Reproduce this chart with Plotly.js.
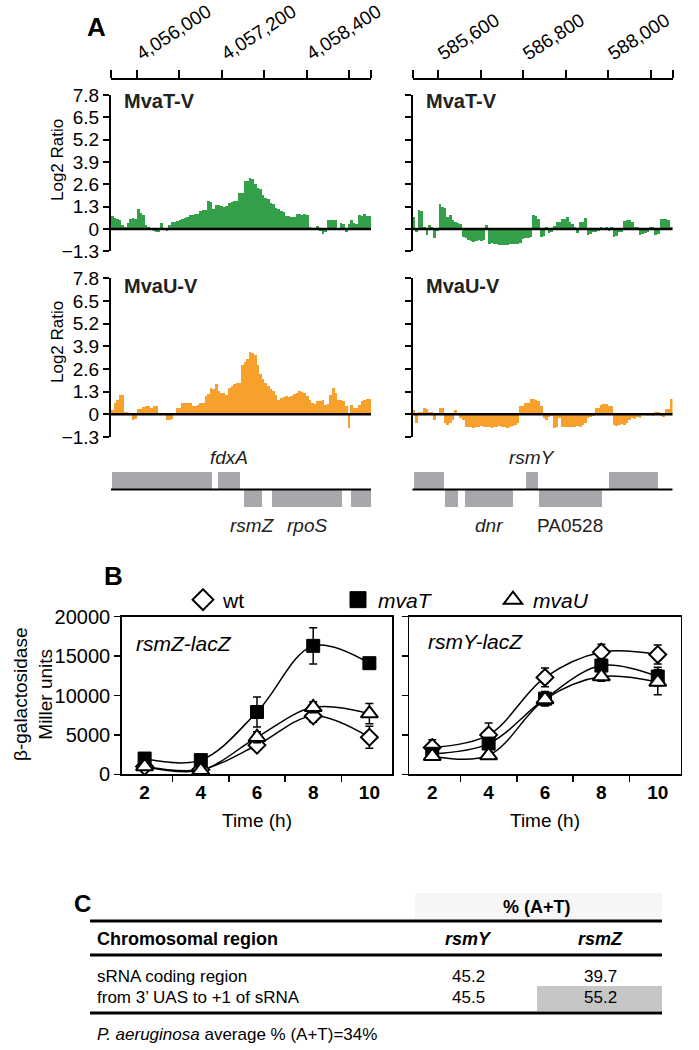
<!DOCTYPE html>
<html><head><meta charset="utf-8">
<script src="https://cdn.plot.ly/plotly-3.0.1.min.js"></script>
<style>html,body{margin:0;padding:0;background:#fff}#chart{width:699px;height:1050px}</style>
</head><body><div id="chart"></div>
<script>
const W = 699, H = 1050;
const X = p => p / W, Y = p => 1 - p / H;

// ---------------- Panel A data ----------------
const regionLeft = [4055640, 4059310];
const regionRight = [585240, 588905];
const leftTickVals = [4055640, 4056000, 4056600, 4057200, 4057800, 4058400, 4059000, 4059310];
const leftTickText = ['', '4,056,000', '', '4,057,200', '', '4,058,400', '', ''];
const rightTickVals = [585240, 585600, 586200, 586800, 587400, 588000, 588600, 588905];
const rightTickText = ['', '585,600', '', '586,800', '', '588,000', '', ''];
const log2Ticks = [-1.3, 0, 1.3, 2.6, 3.9, 5.2, 6.5, 7.8];

const mvaT_left = [0.76,0.65,0.6,0.5,0.25,0.12,0.33,0.6,0.62,0.6,1.16,0.95,0.8,0.23,0.14,0.05,-0.1,-0.2,-0.18,0.33,-0.05,-0.1,0.23,0.4,0.43,0.48,0.55,0.6,0.65,0.7,0.8,0.82,0.88,0.9,1.05,1.1,1.1,1.6,1.55,1.15,1.4,1.4,1.35,1.3,1.35,1.53,1.55,1.65,1.65,2.08,2.1,2.8,2.8,2.95,2.9,2.6,2.37,2.3,2.0,1.8,1.75,1.5,1.45,1.2,1.15,1.07,1.0,0.76,0.75,0.72,0.72,0.85,0.9,0.8,0.85,0.8,0.14,-0.02,0.05,0.2,-0.1,-0.3,-0.2,0.52,0.55,0.5,0.55,-0.02,0.37,0.3,-0.15,0.3,0.52,0.33,0.3,0.8,0.75,0.9,0.76,0.76];
const mvaT_right = [0.72,-0.15,1.1,1.05,0.14,-0.35,0.23,0.1,-0.55,-0.1,1.43,1.3,1.2,0.72,0.8,0.5,0.43,0.33,0.3,-0.45,-0.55,-0.65,-0.7,-0.75,-0.7,-0.65,-0.7,-0.65,0.23,-0.85,-0.8,-0.85,-0.9,-0.93,-0.95,-0.95,-0.93,-0.9,-0.9,-0.85,-0.85,-0.8,-0.6,-0.55,-0.5,-0.45,0.8,0.78,0.6,-0.45,-0.4,0.14,-0.25,-0.2,0.2,0.43,0.4,0.6,0.6,0.72,0.43,0.3,0.14,-0.25,0.43,0.4,0.66,-0.35,-0.3,-0.15,-0.2,-0.1,0.14,-0.06,0.1,-0.1,0.12,-0.45,-0.4,-0.15,-0.2,0.45,0.52,0.5,0.4,0.14,0.1,-0.35,-0.3,-0.25,-0.2,0.14,0.1,-0.35,-0.3,0.56,0.6,0.6,0.55,0.14];
const mvaU_left = [0.25,0.65,0.8,1.1,1.1,0.12,0.12,0.1,-0.3,-0.25,0.3,0.3,0.4,0.45,0.45,0.35,0.45,0.45,0.06,-0.05,-0.05,-0.3,-0.3,-0.25,0.1,0.35,0.35,0.65,0.65,0.65,0.65,0.5,0.5,0.55,0.65,0.65,1.04,1.14,1.53,1.45,1.72,1.33,1.24,1.2,1.08,1.5,1.63,1.72,1.82,1.82,2.8,3.0,3.2,3.6,3.5,3.4,2.8,2.3,2.0,1.8,1.63,1.43,1.33,1.1,0.84,0.94,1.0,1.04,1.0,1.04,1.14,1.2,1.33,1.3,1.2,1.04,0.84,0.65,0.6,0.75,0.75,0.84,0.55,0.6,1.1,1.5,1.24,0.84,0.8,0.75,0.45,-0.8,0.55,0.35,0.35,0.55,0.75,0.84,0.88,0.88];
const mvaU_right = [0.25,-0.5,0.15,0.15,0.35,0.3,0.15,0.15,-0.3,0.06,0.35,0.35,-0.5,-0.6,-0.5,-0.3,0.25,0.1,-0.2,-0.3,-0.7,-0.75,-0.7,-0.8,-0.75,-0.7,-0.65,-0.7,-0.75,-0.7,-0.8,-0.75,-0.7,-0.65,-0.7,-0.75,-0.8,-0.7,-0.65,-0.6,-0.5,0.5,0.5,0.65,0.65,0.88,0.88,0.8,0.75,0.5,-0.2,-0.3,-0.15,-0.1,-0.8,-0.75,-0.2,-0.7,-0.75,-0.7,-0.7,-0.75,-0.7,-0.65,-0.7,-0.6,-0.5,-0.2,-0.15,-0.1,0.35,0.35,0.55,0.6,0.6,0.45,0.45,-0.6,-0.65,-0.6,-0.55,-0.6,-0.5,-0.3,-0.2,-0.25,-0.15,-0.2,0.1,0.1,-0.1,0.05,-0.1,0.15,0.15,-0.1,-0.15,0.3,0.3,0.85];

// genes
const geneNameL = ['', 'fdxA', 'rsmZ', 'rpoS', ''];
const geneStartL = [4055657, 4057157, 4057514, 4057910, 4059029];
const geneEndL = [4057069, 4057462, 4057766, 4058907, 4059310];
const geneStrandL = [1, 1, -1, -1, -1];
const geneNameR = ['', '', 'dnr', 'rsmY', 'PA0528', ''];
const geneStartR = [585265, 585699, 585985, 586833, 587018, 588015];
const geneEndR = [585680, 585877, 586659, 587006, 587910, 588707];
const geneStrandR = [1, -1, -1, 1, -1, 1];
const geneItalic = {fdxA: true, rsmZ: true, rpoS: true, dnr: true, rsmY: true, PA0528: false};

// ---------------- Panel B data ----------------
const timeH = ['2', '4', '6', '8', '10'];
const rsmZ_wt = [1000, 600, 3700, 7400, 4700];
const rsmZ_wt_err = [300, 200, 500, 800, 1400];
const rsmZ_mvaT = [2000, 1800, 7900, 16300, 14100];
const rsmZ_mvaT_err = [300, 300, 1900, 2300, 600];
const rsmZ_mvaU = [1000, 500, 4700, 8500, 7700];
const rsmZ_mvaU_err = [400, 200, 700, 700, 1300];
const rsmY_wt = [3400, 5000, 12300, 15500, 15200];
const rsmY_wt_err = [1000, 1500, 1200, 1000, 1200];
const rsmY_mvaT = [2600, 3900, 9600, 13800, 12400];
const rsmY_mvaT_err = [400, 500, 900, 900, 1200];
const rsmY_mvaU = [2300, 2400, 9500, 12400, 11700];
const rsmY_mvaU_err = [400, 400, 800, 600, 1600];
const millerTicks = [0, 5000, 10000, 15000, 20000];

// ---------------- Panel C data ----------------
const tableHeader = ['Chromosomal region', 'rsmY', 'rsmZ'];
const tableRows = [
  ['sRNA coding region', '45.2', '39.7'],
  ['from 3\u2019 UAS to +1 of sRNA', '45.5', '55.2']
];
const footnote = '<i>P. aeruginosa</i> average % (A+T)=34%';

// ---------------- styling ----------------
const FONT = 'Liberation Sans, Arial, Helvetica, sans-serif';
const GREEN = '#35a04a';
const ORANGE = '#f7a12c';
const GENE = '#a7a8ab';

function centers(vals, range) {
  const step = (range[1] - range[0]) / vals.length;
  return vals.map((v, i) => range[0] + (i + 0.5) * step);
}

const traces = [];
function barTrace(vals, range, color, xa, ya) {
  return {type: 'bar', x: centers(vals, range), y: vals, xaxis: xa, yaxis: ya,
    marker: {color: color, line: {width: 0}}, showlegend: false, hoverinfo: 'skip'};
}
traces.push(barTrace(mvaT_left, regionLeft, GREEN, 'x', 'y'));
traces.push(barTrace(mvaT_right, regionRight, GREEN, 'x2', 'y2'));
traces.push(barTrace(mvaU_left, regionLeft, ORANGE, 'x3', 'y3'));
traces.push(barTrace(mvaU_right, regionRight, ORANGE, 'x4', 'y4'));

function geneTrace(st, en, strand, xa, ya) {
  return {type: 'bar', orientation: 'h', base: st, x: st.map((s, i) => en[i] - s),
    y: strand.map(s => s * 0.5), width: 0.9, xaxis: xa, yaxis: ya,
    marker: {color: GENE, line: {width: 0}}, showlegend: false, hoverinfo: 'skip'};
}
traces.push(geneTrace(geneStartL, geneEndL, geneStrandL, 'x5', 'y5'));
traces.push(geneTrace(geneStartR, geneEndR, geneStrandR, 'x6', 'y6'));

const symbols = {
  wt: {symbol: 'diamond', color: 'white', line: {color: 'black', width: 2}, size: 13},
  mvaT: {symbol: 'square', color: 'black', line: {color: 'black', width: 1}, size: 13},
  mvaU: {symbol: 'triangle-up', color: 'white', line: {color: 'black', width: 2}, size: 15}
};
const seriesB = [
  ['wt', rsmZ_wt, rsmZ_wt_err, rsmY_wt, rsmY_wt_err],
  ['mvaT', rsmZ_mvaT, rsmZ_mvaT_err, rsmY_mvaT, rsmY_mvaT_err],
  ['mvaU', rsmZ_mvaU, rsmZ_mvaU_err, rsmY_mvaU, rsmY_mvaU_err]
];
seriesB.forEach(s => {
  [['x7', 'y7', s[1]], ['x8', 'y8', s[3]]].forEach(p => {
    traces.push({type: 'scatter', mode: 'lines', x: timeH, y: p[2], xaxis: p[0], yaxis: p[1],
      line: {color: 'black', width: 1.5, shape: 'spline', smoothing: 1}, showlegend: false, hoverinfo: 'skip'});
  });
});
seriesB.forEach(s => {
  [['x7', 'y7', s[1], s[2]], ['x8', 'y8', s[3], s[4]]].forEach(p => {
    const m = symbols[s[0]];
    traces.push({type: 'scatter', mode: 'markers', x: timeH, y: p[2], xaxis: p[0], yaxis: p[1],
      error_y: {type: 'data', array: p[3], visible: true, color: 'black', thickness: 1.5, width: 4},
      marker: {symbol: m.symbol, color: m.color, size: m.size, line: m.line},
      showlegend: false, hoverinfo: 'skip'});
  });
});
const legendNames = {wt: 'wt', mvaT: '<i>mvaT</i>', mvaU: '<i>mvaU</i>'};
seriesB.forEach(s => {
  const m = symbols[s[0]];
  traces.push({type: 'scatter', mode: 'markers', x: [null], y: [null], xaxis: 'x7', yaxis: 'y7',
    name: legendNames[s[0]],
    marker: {symbol: m.symbol, color: m.color, size: 22, line: m.line}, showlegend: true, hoverinfo: 'skip'});
});

// ---------------- layout ----------------
const dTopL = [X(111), X(371)], dTopR = [X(412.5), X(672.5)];
const baseY = {range: [-1.3, 7.8], tickvals: log2Ticks, ticks: 'outside', ticklen: 6, tickwidth: 2,
  showline: true, linewidth: 2, linecolor: 'black', tickcolor: 'black', showgrid: false, zeroline: false,
  tickfont: {size: 19, color: 'black'}, fixedrange: true};
const topX = (dom, range, tv, tt) => ({domain: dom, range: range, anchor: 'free', position: Y(79), side: 'top',
  showline: true, linewidth: 2, linecolor: 'black', ticks: 'outside', ticklen: 8, tickwidth: 2, tickcolor: 'black',
  tickvals: tv, ticktext: tt, tickangle: -33, tickfont: {size: 19, color: 'black'}, showgrid: false, zeroline: false});
const hidX = (dom, range) => ({domain: dom, range: range, visible: false, showgrid: false, zeroline: false});

const bX = dom => ({domain: dom, type: 'category', categoryorder: 'array', categoryarray: timeH,
  tickson: 'boundaries', ticks: 'outside', ticklen: 6, tickwidth: 1.5, tickcolor: 'black',
  showline: true, mirror: true, linewidth: 1.5, linecolor: 'black', showgrid: false, zeroline: false,
  tickfont: {size: 19, color: 'black', weight: 'bold'},
  title: {text: 'Time (h)', font: {size: 19, color: 'black'}, standoff: 12}});
const bY = (show) => ({domain: [Y(774.3), Y(616.7)], range: [0, 20000], tickvals: millerTicks, tickformat: 'd',
  ticks: 'outside', ticklen: 6, tickwidth: 1.5, tickcolor: 'black', showline: true, mirror: true,
  linewidth: 1.5, linecolor: 'black', showgrid: false, zeroline: false, showticklabels: show,
  tickfont: {size: 20, color: 'black'}});

const shapes = [];
const annotations = [];
[['x', 'y'], ['x2', 'y2'], ['x3', 'y3'], ['x4', 'y4']].forEach(p => {
  shapes.push({type: 'line', xref: p[0] + ' domain', x0: 0, x1: 1, yref: p[1], y0: 0, y1: 0,
    line: {color: 'black', width: 2.5}, layer: 'above'});
});
['x5', 'x6'].forEach((xa, k) => {
  shapes.push({type: 'line', xref: xa + ' domain', x0: 0, x1: 1, yref: (k ? 'y6' : 'y5'), y0: 0, y1: 0,
    line: {color: 'black', width: 2}, layer: 'above'});
});

function ann(o) { annotations.push(Object.assign({showarrow: false, xref: 'paper', yref: 'paper',
  xanchor: 'center', yanchor: 'middle', font: {family: FONT, size: 15, color: 'black'}}, o)); }

ann({text: '<b>A</b>', x: X(96), y: Y(27), font: {family: FONT, size: 26, color: 'black'}});
ann({text: '<b>B</b>', x: X(113), y: Y(576), font: {family: FONT, size: 26, color: 'black'}});
ann({text: '<b>C</b>', x: X(82), y: Y(903), font: {family: FONT, size: 24, color: 'black'}});

[['MvaT-V', 122, 101], ['MvaT-V', 424, 101], ['MvaU-V', 122, 286], ['MvaU-V', 424, 286]].forEach(t => {
  ann({text: '<b>' + t[0] + '</b>', x: X(t[1]), y: Y(t[2]), xanchor: 'left', font: {family: FONT, size: 20, color: '#222'}});
});
ann({text: 'Log2 Ratio', x: X(57), y: Y(160), textangle: -90, font: {family: FONT, size: 17, color: 'black'}});
ann({text: 'Log2 Ratio', x: X(57), y: Y(342), textangle: -90, font: {family: FONT, size: 17, color: 'black'}});

function geneLabels(names, st, en, strand, xa, ya) {
  names.forEach((n, i) => {
    if (!n) return;
    const up = strand[i] > 0;
    annotations.push({showarrow: false, xref: xa, yref: ya, x: (st[i] + en[i]) / 2, y: up ? 1 : -1,
      xanchor: 'center', yanchor: up ? 'bottom' : 'top', yshift: up ? 2 : -5,
      text: geneItalic[n] ? '<i>' + n + '</i>' : n, font: {family: FONT, size: 19, color: '#222'}});
  });
}
geneLabels(geneNameL, geneStartL, geneEndL, geneStrandL, 'x5', 'y5');
geneLabels(geneNameR, geneStartR, geneEndR, geneStrandR, 'x6', 'y6');

ann({text: '<i>rsmZ-lacZ</i>', x: X(134), y: Y(643), xanchor: 'left', font: {family: FONT, size: 21, color: 'black'}});
ann({text: '<i>rsmY-lacZ</i>', x: X(426), y: Y(641), xanchor: 'left', font: {family: FONT, size: 21, color: 'black'}});
ann({text: '\u03b2-galactosidase<br>Miller units', x: X(33), y: Y(695), textangle: -90,
  font: {family: FONT, size: 19, color: 'black'}});

// ---------------- Panel C table ----------------
const TL = 90, TR = 662;
const ruleY = [921, 955, 1013];
const colX = [95, 468, 600];
const headY = 939, rowY = [976, 997];
shapes.push({type: 'rect', xref: 'paper', yref: 'paper', x0: X(415), x1: X(TR), y0: Y(919), y1: Y(893),
  fillcolor: '#f6f6f6', line: {width: 0}, layer: 'below'});
shapes.push({type: 'rect', xref: 'paper', yref: 'paper', x0: X(537), x1: X(TR), y0: Y(1011), y1: Y(986),
  fillcolor: '#c6c6c6', line: {width: 0}, layer: 'below'});
ruleY.forEach(yy => shapes.push({type: 'line', xref: 'paper', yref: 'paper', x0: X(TL), x1: X(TR), y0: Y(yy), y1: Y(yy),
  line: {color: 'black', width: 3}}));
ann({text: '<b>% (A+T)</b>', x: X(537), y: Y(907), font: {family: FONT, size: 18, color: 'black'}});
tableHeader.forEach((h, j) => {
  const t = j === 0 ? '<b>' + h + '</b>' : '<b><i>' + h + '</i></b>';
  ann({text: t, x: X(colX[j]), y: Y(headY), xanchor: j === 0 ? 'left' : 'center', font: {family: FONT, size: 18, color: 'black'}});
});
tableRows.forEach((r, i) => {
  r.forEach((c, j) => {
    ann({text: c, x: X(colX[j]), y: Y(rowY[i]), xanchor: j === 0 ? 'left' : 'center', font: {family: FONT, size: 17, color: 'black'}});
  });
});
ann({text: footnote, x: X(95), y: Y(1034), xanchor: 'left', font: {family: FONT, size: 17, color: 'black'}});

const layout = {
  width: W, height: H, margin: {l: 0, r: 0, t: 0, b: 0}, paper_bgcolor: 'white', plot_bgcolor: 'rgba(0,0,0,0)',
  font: {family: FONT, color: 'black'}, bargap: 0, showlegend: true,
  legend: {orientation: 'h', x: X(183), y: Y(600), xanchor: 'left', yanchor: 'middle',
    font: {family: FONT, size: 21, color: 'black'}, itemsizing: 'trace', entrywidth: 110, entrywidthmode: 'pixels',
    bgcolor: 'rgba(0,0,0,0)', itemclick: false, itemdoubleclick: false},
  xaxis: topX(dTopL, regionLeft, leftTickVals, leftTickText),
  yaxis: Object.assign({domain: [Y(251.3), Y(95)], anchor: 'x'}, baseY),
  xaxis2: topX(dTopR, regionRight, rightTickVals, rightTickText),
  yaxis2: Object.assign({domain: [Y(251.3), Y(95)], anchor: 'x2', showticklabels: false}, baseY),
  xaxis3: Object.assign(hidX(dTopL, regionLeft), {anchor: 'y3'}),
  yaxis3: Object.assign({domain: [Y(437), Y(278.3)], anchor: 'x3'}, baseY),
  xaxis4: Object.assign(hidX(dTopR, regionRight), {anchor: 'y4'}),
  yaxis4: Object.assign({domain: [Y(437), Y(278.3)], anchor: 'x4', showticklabels: false}, baseY),
  xaxis5: Object.assign(hidX(dTopL, regionLeft), {anchor: 'y5'}),
  yaxis5: {domain: [Y(507.5), Y(471.5)], range: [-1, 1], visible: false, anchor: 'x5'},
  xaxis6: Object.assign(hidX(dTopR, regionRight), {anchor: 'y6'}),
  yaxis6: {domain: [Y(507.5), Y(471.5)], range: [-1, 1], visible: false, anchor: 'x6'},
  xaxis7: Object.assign(bX([X(121.7), X(392.3)]), {anchor: 'y7'}),
  yaxis7: Object.assign(bY(true), {anchor: 'x7'}),
  xaxis8: Object.assign(bX([X(409.3), X(680.7)]), {anchor: 'y8'}),
  yaxis8: Object.assign(bY(false), {anchor: 'x8'}),
  shapes: shapes, annotations: annotations
};

Plotly.newPlot('chart', traces, layout, {staticPlot: true, displayModeBar: false});
</script>
</body></html>
